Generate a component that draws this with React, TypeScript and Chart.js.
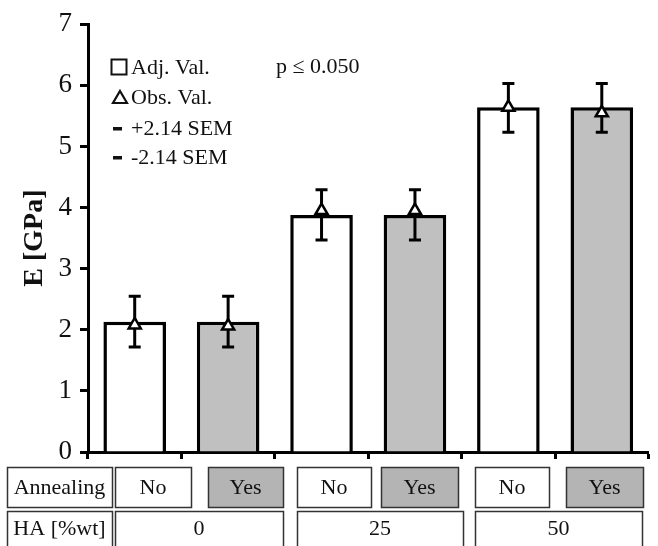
import React, { useEffect, useRef } from "react";
import { Chart, registerables } from "chart.js";

Chart.register(...registerables);

const categories = ["0% No", "0% Yes", "25% No", "25% Yes", "50% No", "50% Yes"];
const adjValues = [2.13, 2.13, 3.88, 3.88, 5.64, 5.64];
const obsValues = [2.08, 2.06, 3.95, 3.95, 5.64, 5.55];
const upperValues = [2.55, 2.55, 4.29, 4.29, 6.03, 6.03];
const lowerValues = [1.72, 1.72, 3.47, 3.47, 5.23, 5.23];
const annealingLabels = ["No", "Yes", "No", "Yes", "No", "Yes"];
const haLabels = ["0", "25", "50"];
const rowHeaders = ["Annealing", "HA [%wt]"];
const yTicks = [0, 1, 2, 3, 4, 5, 6, 7];
const legendLabels = ["Adj. Val.", "Obs. Val.", "+2.14 SEM", "-2.14 SEM"];
const pValueLabel = "p \u2264 0.050";
const yAxisTitle = "E [GPa]";

const SERIF = "'Liberation Serif', 'Times New Roman', serif";
const BAR_GRAY = "#c0c0c0";
const BOX_GRAY = "#b4b4b4";

const errorBarPlugin = {
  id: "errorBars",
  afterDatasetDraw(chart: any, args: any) {
    if (args.index !== 0) return;
    const { ctx } = chart;
    const x = chart.scales.x;
    const y = chart.scales.y;
    ctx.save();
    ctx.strokeStyle = "#000";
    ctx.lineWidth = 3;
    ctx.lineCap = "butt";
    categories.forEach((_, i) => {
      const cx = x.getPixelForValue(i);
      const yt = y.getPixelForValue(upperValues[i]);
      const yb = y.getPixelForValue(lowerValues[i]);
      ctx.beginPath();
      ctx.moveTo(cx, yt);
      ctx.lineTo(cx, yb);
      ctx.moveTo(cx - 6, yt);
      ctx.lineTo(cx + 6, yt);
      ctx.moveTo(cx - 6, yb);
      ctx.lineTo(cx + 6, yb);
      ctx.stroke();
    });
    ctx.restore();
  },
};

const annotationPlugin = {
  id: "annotations",
  afterDraw(chart: any) {
    const { ctx } = chart;
    ctx.save();
    ctx.fillStyle = "#111";
    ctx.strokeStyle = "#111";
    ctx.font = `22px ${SERIF}`;
    ctx.textBaseline = "alphabetic";
    ctx.textAlign = "left";

    // legend
    const baselines = [74, 104, 135, 164];
    const textX = 131;
    legendLabels.forEach((t, i) => ctx.fillText(t, textX, baselines[i]));
    ctx.lineWidth = 2;
    ctx.strokeRect(111.5, 59.5, 15, 15);
    ctx.lineWidth = 2.2;
    ctx.beginPath();
    ctx.moveTo(120, 91);
    ctx.lineTo(127, 103);
    ctx.lineTo(113, 103);
    ctx.closePath();
    ctx.stroke();
    ctx.fillRect(113, 127, 9, 3.5);
    ctx.fillRect(113, 156, 9, 3.5);

    ctx.fillText(pValueLabel, 276, 73);

    // table
    const row1 = { top: 467, bottom: 507 };
    const row2 = { top: 511, bottom: 552 };
    const header = [7, 112];
    const annBoxes = [
      [115, 191], [208, 283], [297, 371], [381, 458], [475, 549], [566, 643],
    ];
    const haBoxes = [[115, 283], [297, 463], [475, 642]];
    ctx.lineWidth = 1.5;
    ctx.strokeStyle = "#333";
    const drawBox = (x0: number, x1: number, r: any, fill: string, text: string) => {
      ctx.fillStyle = fill;
      ctx.fillRect(x0, r.top, x1 - x0, r.bottom - r.top);
      ctx.strokeRect(x0 + 0.5, r.top + 0.5, x1 - x0, r.bottom - r.top);
      ctx.fillStyle = "#111";
      ctx.textAlign = "center";
      ctx.textBaseline = "middle";
      if (text) ctx.fillText(text, (x0 + x1) / 2, (r.top + r.bottom) / 2 + 1);
    };
    drawBox(header[0], header[1], row1, "#fff", rowHeaders[0]);
    drawBox(header[0], header[1], row2, "#fff", "");
    ctx.fillText(rowHeaders[1], (header[0] + header[1]) / 2, 529);
    annBoxes.forEach((b, i) =>
      drawBox(b[0], b[1], row1, annealingLabels[i] === "Yes" ? BOX_GRAY : "#fff", annealingLabels[i])
    );
    haBoxes.forEach((b, i) => {
      drawBox(b[0], b[1], row2, "#fff", "");
      ctx.fillText(haLabels[i], (b[0] + b[1]) / 2, 529);
    });
    ctx.restore();
  },
};

export default function App() {
  const canvasRef = useRef<HTMLCanvasElement | null>(null);

  useEffect(() => {
    if (!canvasRef.current) return;
    const chart = new Chart(canvasRef.current, {
      type: "bar",
      data: {
        labels: categories,
        datasets: [
          {
            type: "bar",
            label: "Adj. Val.",
            data: adjValues,
            backgroundColor: adjValues.map((_, i) => (annealingLabels[i] === "Yes" ? BAR_GRAY : "#ffffff")),
            borderColor: "#000",
            borderWidth: 3.5,
            barPercentage: 0.67,
            categoryPercentage: 1,
            order: 1,
          } as any,
          {
            type: "line",
            label: "Obs. Val.",
            data: obsValues,
            showLine: false,
            pointStyle: "triangle",
            pointRadius: 7,
            pointBackgroundColor: "#fff",
            pointBorderColor: "#000",
            pointBorderWidth: 2.5,
            order: 0,
          } as any,
        ],
      },
      options: {
        responsive: true,
        maintainAspectRatio: false,
        animation: false,
        layout: { padding: { top: 18, right: 1, left: 0, bottom: 0 } },
        plugins: {
          legend: { display: false },
          tooltip: { enabled: false },
        },
        scales: {
          x: {
            offset: true,
            grid: {
              offset: true,
              drawOnChartArea: false,
              drawTicks: true,
              tickLength: 7,
              tickWidth: 3,
              tickColor: "#000",
            },
            border: { display: true, color: "#000", width: 3 },
            ticks: { display: false },
            afterFit: (s: any) => {
              s.height = 94;
            },
          },
          y: {
            min: 0,
            max: 7,
            afterBuildTicks: (s: any) => {
              s.ticks = yTicks.map((v) => ({ value: v }));
            },
            grid: {
              drawOnChartArea: false,
              drawTicks: true,
              tickLength: 8,
              tickWidth: 3,
              tickColor: "#000",
            },
            border: { display: true, color: "#000", width: 3 },
            ticks: {
              padding: 8,
              color: "#111",
              font: { family: SERIF, size: 27 },
            },
            title: {
              display: true,
              text: yAxisTitle,
              color: "#111",
              font: { family: SERIF, size: 28, weight: "bold" },
              padding: { top: 18, bottom: 0 },
            },
            afterFit: (s: any) => {
              s.width = 88;
            },
          },
        },
      },
      plugins: [errorBarPlugin, annotationPlugin],
    });
    return () => chart.destroy();
  }, []);

  return (
    <div style={{ position: "absolute", left: 0, top: 0, width: 658, height: 546, background: "#fff" }}>
      <canvas ref={canvasRef} />
    </div>
  );
}
